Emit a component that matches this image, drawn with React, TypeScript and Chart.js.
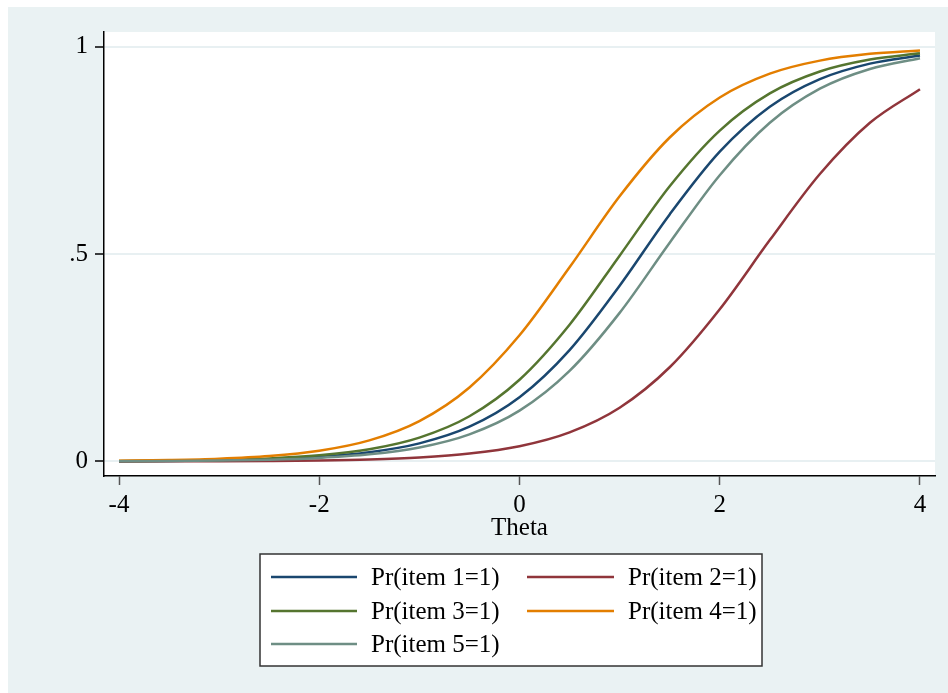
import React, { useEffect, useRef } from "react";
import { Chart, registerables } from "chart.js";

Chart.register(...registerables);

const theta = [-4, -3.5, -3, -2.5, -2, -1.5, -1, -0.5, 0, 0.5, 1, 1.5, 2, 2.5, 3, 3.5, 4];
const item1 = [0.0007, 0.0014, 0.0028, 0.0056, 0.0113, 0.0223, 0.0437, 0.0839, 0.155, 0.2688, 0.4241, 0.596, 0.7473, 0.8556, 0.9223, 0.9597, 0.9794];
const item2 = [0.0002, 0.0003, 0.0006, 0.0013, 0.0025, 0.0049, 0.0097, 0.019, 0.0368, 0.0702, 0.1297, 0.2273, 0.3673, 0.534, 0.6934, 0.817, 0.8981];
const item3 = [0.0009, 0.0019, 0.0038, 0.0075, 0.015, 0.0296, 0.0577, 0.1092, 0.1972, 0.3299, 0.4965, 0.664, 0.7983, 0.888, 0.9408, 0.9696, 0.9846];
const item4 = [0.0016, 0.0033, 0.0065, 0.013, 0.0259, 0.0509, 0.0975, 0.1786, 0.3045, 0.4685, 0.6397, 0.7815, 0.878, 0.9355, 0.9669, 0.9833, 0.9916];
const item5 = [0.0005, 0.0011, 0.0022, 0.0044, 0.0087, 0.0172, 0.0338, 0.0655, 0.1227, 0.2186, 0.3585, 0.5277, 0.6906, 0.817, 0.8992, 0.9469, 0.9727];

const seriesLabels = ["Pr(item 1=1)", "Pr(item 2=1)", "Pr(item 3=1)", "Pr(item 4=1)", "Pr(item 5=1)"];
const seriesValues = [item1, item2, item3, item4, item5];
const seriesColors = ["#1a476f", "#90353b", "#55752f", "#e37e00", "#6e8e84"];

const xTicks = [-4, -2, 0, 2, 4];
const yTicks = [0, 0.5, 1];
const yTickLabels = ["0", ".5", "1"];
const xTitle = "Theta";

const FONT = '"Liberation Serif", "Times New Roman", serif';
const FS = 25;
const BG = "#EAF2F3";

const bgPlugin = {
  id: "stataBg",
  beforeDraw(chart: any) {
    const { ctx, chartArea, width, height } = chart;
    ctx.save();
    ctx.fillStyle = BG;
    ctx.fillRect(0, 0, width, height);
    ctx.fillStyle = "#ffffff";
    ctx.fillRect(chartArea.left, chartArea.top, chartArea.right - chartArea.left, chartArea.bottom - chartArea.top);
    ctx.restore();
  },
};

const legendPlugin = {
  id: "stataLegend",
  afterDraw(chart: any) {
    const { ctx } = chart;
    const boxL = 252, boxT = 547, boxR = 754, boxB = 659;
    ctx.save();
    ctx.fillStyle = "#ffffff";
    ctx.fillRect(boxL, boxT, boxR - boxL, boxB - boxT);
    ctx.strokeStyle = "#333333";
    ctx.lineWidth = 1.5;
    ctx.strokeRect(boxL, boxT, boxR - boxL, boxB - boxT);
    const rowY = [570, 604, 637];
    const colLine = [[263, 349], [519, 606]];
    const colText = [363, 620];
    ctx.font = `${FS}px ${FONT}`;
    ctx.textBaseline = "middle";
    ctx.textAlign = "left";
    seriesLabels.forEach((lab, i) => {
      const r = Math.floor(i / 2);
      const c = i % 2;
      ctx.strokeStyle = seriesColors[i];
      ctx.lineWidth = 2.5;
      ctx.beginPath();
      ctx.moveTo(colLine[c][0], rowY[r]);
      ctx.lineTo(colLine[c][1], rowY[r]);
      ctx.stroke();
      ctx.fillStyle = "#000000";
      ctx.fillText(lab, colText[c], rowY[r] + 1);
    });
    ctx.restore();
  },
};

export default function App() {
  const ref = useRef<HTMLCanvasElement | null>(null);
  useEffect(() => {
    if (!ref.current) return;
    const chart = new Chart(ref.current, {
      type: "line",
      data: {
        datasets: seriesValues.map((vals, i) => ({
          label: seriesLabels[i],
          data: theta.map((t, j) => ({ x: t, y: vals[j] })),
          borderColor: seriesColors[i],
          backgroundColor: seriesColors[i],
          borderWidth: 2.5,
          pointRadius: 0,
          cubicInterpolationMode: "monotone" as const,
          fill: false,
          order: 5 - i,
        })),
      },
      options: {
        animation: false,
        responsive: false,
        devicePixelRatio: 1,
        layout: { padding: { left: 0, top: 25, right: 13, bottom: 147 } },
        plugins: { legend: { display: false }, tooltip: { enabled: false } },
        scales: {
          x: {
            type: "linear",
            min: -4.15,
            max: 4.15,
            afterFit(scale: any) {
              scale.height = 70;
            },
            afterBuildTicks(scale: any) {
              scale.ticks = xTicks.map((v) => ({ value: v }));
            },
            border: { display: true, color: "#000000", width: 1.5 },
            grid: { display: true, drawOnChartArea: false, drawTicks: true, tickLength: 9, tickColor: "#555555", tickWidth: 1.5 },
            ticks: {
              color: "#000000",
              font: { family: FONT, size: FS },
              padding: 5,
              maxRotation: 0,
              callback: (v: any) => String(v),
            },
            title: {
              display: true,
              text: xTitle,
              color: "#000000",
              font: { family: FONT, size: FS },
              padding: { top: 0, bottom: 3 },
            },
          },
          y: {
            type: "linear",
            min: -0.035,
            max: 1.036,
            afterFit(scale: any) {
              scale.width = 96;
            },
            afterBuildTicks(scale: any) {
              scale.ticks = yTicks.map((v) => ({ value: v }));
            },
            border: { display: true, color: "#000000", width: 1.5 },
            grid: { display: true, color: "#E8F0F2", lineWidth: 2, drawTicks: true, tickLength: 9, tickColor: "#000000", tickWidth: 1.5 },
            ticks: {
              color: "#000000",
              font: { family: FONT, size: FS },
              padding: 7,
              callback: (v: any) => {
                const k = yTicks.indexOf(Number(v));
                return k >= 0 ? yTickLabels[k] : "";
              },
            },
          },
        },
      },
      plugins: [bgPlugin, legendPlugin],
    } as any);
    return () => chart.destroy();
  }, []);
  return (
    <div style={{ position: "fixed", left: 8, top: 7, width: 940, height: 686 }}>
      <canvas ref={ref} width={940} height={686} style={{ display: "block" }} />
    </div>
  );
}
